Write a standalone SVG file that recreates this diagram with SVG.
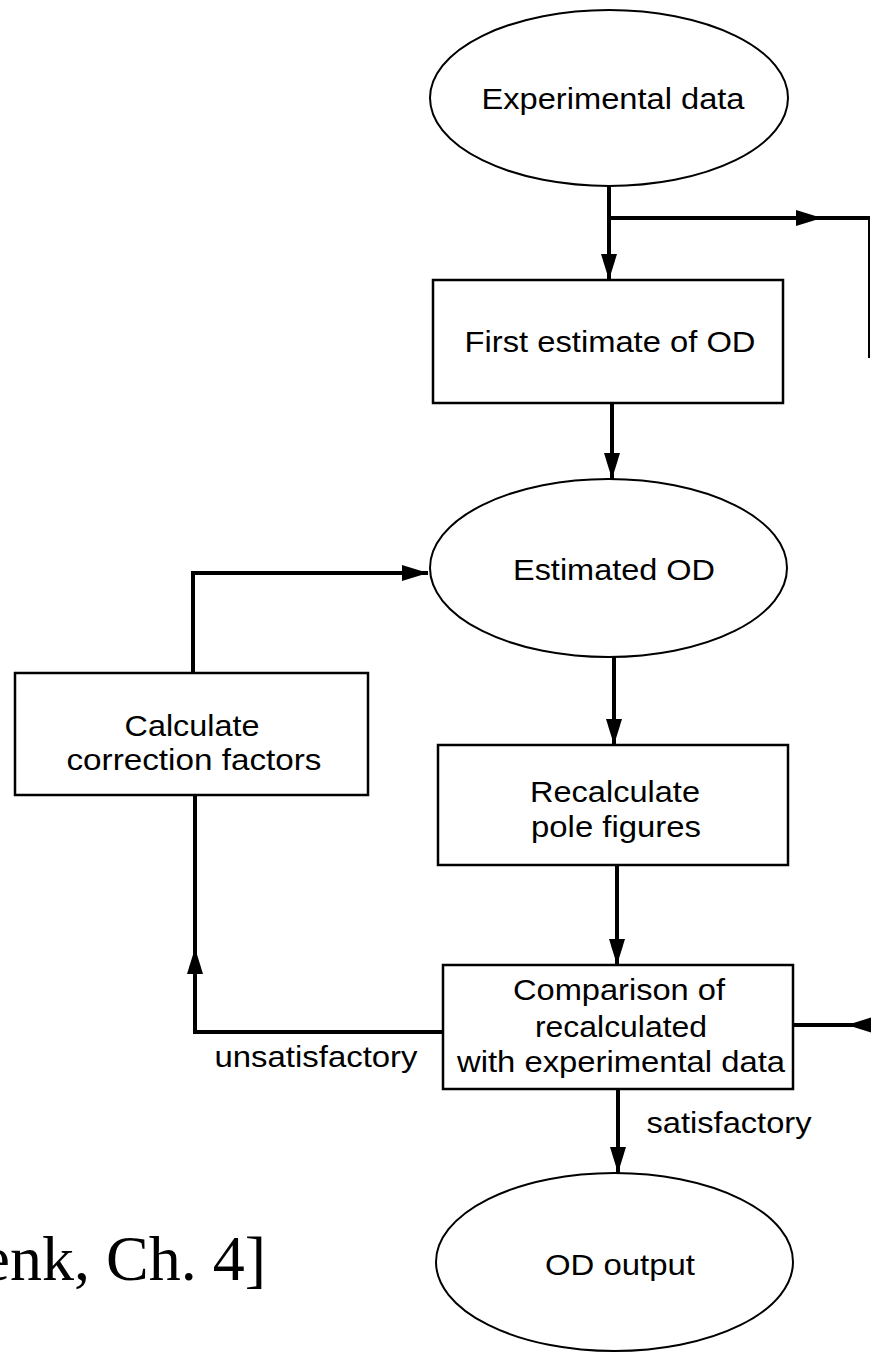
<svg xmlns="http://www.w3.org/2000/svg" width="871" height="1353" viewBox="0 0 871 1353">
<style>
.shape{fill:#fff;stroke:#000;stroke-width:2.5}
.ell{fill:#fff;stroke:#000;stroke-width:2}
.lbl{font-family:"Liberation Sans",Arial,sans-serif;font-size:30px;fill:#000;text-anchor:middle}
.conn{fill:none;stroke:#000;stroke-width:4}
.thin{fill:none;stroke:#000;stroke-width:2}
.cite{font-family:"Liberation Serif","Times New Roman",serif;font-size:64px;fill:#000;text-anchor:end}
</style>
<defs>
<marker id="ah" markerUnits="userSpaceOnUse" markerWidth="27" markerHeight="18" refX="26" refY="9" orient="auto">
<path d="M0,1 L26,9 L0,17 z" fill="#000"/>
</marker>
</defs>
<rect width="871" height="1353" fill="#fff"/>
<g id="connectors">
<line class="conn" x1="609" y1="187" x2="609" y2="280" marker-end="url(#ah)"/>
<line class="conn" x1="609" y1="218" x2="822" y2="218" marker-end="url(#ah)"/>
<line class="conn" x1="820" y1="218" x2="870" y2="218"/>
<line class="thin" x1="869" y1="217" x2="869" y2="358"/>
<line class="conn" x1="612" y1="403" x2="612" y2="479" marker-end="url(#ah)"/>
<line class="conn" x1="614" y1="657" x2="614" y2="745" marker-end="url(#ah)"/>
<line class="conn" x1="617" y1="865" x2="617" y2="965" marker-end="url(#ah)"/>
<line class="conn" x1="618" y1="1089" x2="618" y2="1173" marker-end="url(#ah)"/>
<polyline class="conn" points="443,1032 195,1032 195,948" marker-end="url(#ah)"/>
<line class="conn" x1="195" y1="950" x2="195" y2="795"/>
<polyline class="conn" points="193,673 193,573 428,573" marker-end="url(#ah)"/>
<line class="conn" x1="871" y1="1025" x2="847" y2="1025" marker-end="url(#ah)"/>
<line class="conn" x1="849" y1="1025" x2="793" y2="1025"/>
</g>
<g id="experimental-data">
<ellipse class="ell" cx="609" cy="98" rx="179" ry="88"/>
<text class="lbl" x="613" y="109" textLength="263" lengthAdjust="spacingAndGlyphs">Experimental data</text>
</g>
<g id="first-estimate">
<rect class="shape" x="433" y="280" width="350" height="123"/>
<text class="lbl" x="610" y="352" textLength="291" lengthAdjust="spacingAndGlyphs">First estimate of OD</text>
</g>
<g id="estimated-od">
<ellipse class="ell" cx="608.5" cy="568" rx="178.5" ry="89"/>
<text class="lbl" x="614" y="580" textLength="202" lengthAdjust="spacingAndGlyphs">Estimated OD</text>
</g>
<g id="calculate-correction">
<rect class="shape" x="15" y="673" width="353" height="122"/>
<text class="lbl" x="192" y="736" textLength="135" lengthAdjust="spacingAndGlyphs">Calculate</text>
<text class="lbl" x="194" y="770" textLength="255" lengthAdjust="spacingAndGlyphs">correction factors</text>
</g>
<g id="recalculate">
<rect class="shape" x="438" y="745" width="350" height="120"/>
<text class="lbl" x="615" y="802" textLength="170" lengthAdjust="spacingAndGlyphs">Recalculate</text>
<text class="lbl" x="616" y="837" textLength="170" lengthAdjust="spacingAndGlyphs">pole figures</text>
</g>
<g id="comparison">
<rect class="shape" x="443" y="965" width="350" height="124"/>
<text class="lbl" x="619" y="1000" textLength="212" lengthAdjust="spacingAndGlyphs">Comparison of</text>
<text class="lbl" x="621" y="1037" textLength="172" lengthAdjust="spacingAndGlyphs">recalculated</text>
<text class="lbl" x="621" y="1072" textLength="328" lengthAdjust="spacingAndGlyphs">with experimental data</text>
</g>
<g id="od-output">
<ellipse class="ell" cx="614.5" cy="1262" rx="178.5" ry="89"/>
<text class="lbl" x="620" y="1275" textLength="150" lengthAdjust="spacingAndGlyphs">OD output</text>
</g>
<g id="labels">
<text class="lbl" x="316" y="1067" textLength="203" lengthAdjust="spacingAndGlyphs">unsatisfactory</text>
<text class="lbl" x="729" y="1133" textLength="165" lengthAdjust="spacingAndGlyphs">satisfactory</text>
<text class="cite" x="266" y="1280">enk, Ch. 4]</text>
</g>
</svg>
